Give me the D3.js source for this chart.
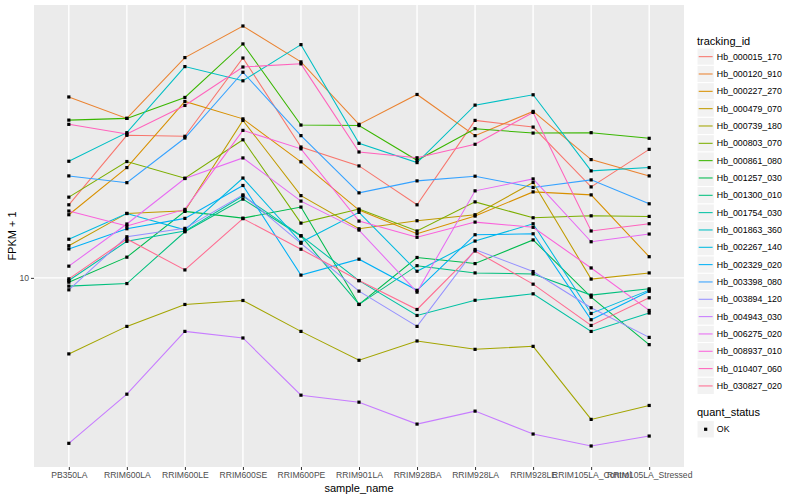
<!DOCTYPE html>
<html>
<head>
<meta charset="utf-8">
<script src="https://cdn.jsdelivr.net/npm/d3@7/dist/d3.min.js"></script>
<style>
  body { margin: 0; background: #fff; }
  svg { font-family: "Liberation Sans", Arial, sans-serif; }
</style>
</head>
<body>
<div id="wrapper"></div>
<script>
/*global d3 */

//****************************1. Data

const samples = ["PB350LA", "RRIM600LA", "RRIM600LE", "RRIM600SE", "RRIM600PE", "RRIM901LA",
    "RRIM928BA", "RRIM928LA", "RRIM928LE", "RRIM105LA_Control", "RRIM105LA_Stressed"]

const trackingIds = ["Hb_000015_170", "Hb_000120_910", "Hb_000227_270", "Hb_000479_070",
    "Hb_000739_180", "Hb_000803_070", "Hb_000861_080", "Hb_001257_030", "Hb_001300_010",
    "Hb_001754_030", "Hb_001863_360", "Hb_002267_140", "Hb_002329_020", "Hb_003398_080",
    "Hb_003894_120", "Hb_004943_030", "Hb_006275_020", "Hb_008937_010", "Hb_010407_060",
    "Hb_030827_020"]

// FPKM + 1, one array per gene, in sample order
const hb000015_170 = [15.25, 22.78, 22.65, 35.60, 21.29, 19.09, 15.25, 24.83, 23.89, 16.91, 21.01]
const hb000120_910 = [28.43, 25.12, 35.69, 42.83, 34.81, 24.27, 28.84, 22.74, 26.15, 19.80, 18.02]
const hb000227_270 = [14.40, 18.91, 27.70, 25.05, 19.55, 14.79, 12.90, 14.29, 16.43, 16.15, 11.30]
const hb000479_070 = [12.04, 14.51, 14.73, 24.83, 16.08, 13.28, 13.91, 14.40, 17.35, 9.93, 10.29]
const hb000739_180 = [6.446, 7.556, 8.576, 8.776, 7.341, 6.213, 6.946, 6.618, 6.734, 4.416, 4.786]
const hb000803_070 = [15.94, 19.58, 17.78, 22.20, 13.72, 14.88, 13.11, 15.51, 14.15, 14.31, 14.26]
const hb000861_080 = [24.87, 25.12, 28.35, 38.62, 24.17, 24.10, 19.72, 23.67, 23.08, 23.13, 22.39]
const hb001257_030 = [9.755, 11.27, 14.68, 14.12, 15.05, 8.576, 11.25, 10.86, 12.45, 8.949, 6.800]
const hb001300_010 = [9.534, 9.677, 13.05, 15.76, 12.74, 8.580, 10.73, 10.29, 10.23, 9.052, 9.387]
const hb001754_030 = [9.846, 12.35, 13.10, 16.05, 12.76, 9.840, 8.049, 8.786, 9.120, 7.340, 8.162]
const hb001863_360 = [19.61, 23.13, 33.88, 31.21, 38.46, 21.75, 19.46, 27.12, 28.79, 18.55, 18.91]
const hb002267_140 = [12.50, 14.50, 13.20, 17.80, 12.28, 14.60, 10.39, 12.37, 13.67, 8.142, 9.317]
const hb002329_020 = [11.82, 13.28, 14.10, 17.05, 10.16, 11.14, 9.306, 12.83, 12.90, 7.853, 9.253]
const hb003398_080 = [18.02, 17.33, 22.43, 32.79, 22.74, 16.34, 17.51, 17.99, 16.86, 17.61, 15.34]
const hb003894_120 = [9.333, 12.68, 13.31, 16.15, 12.21, 9.263, 7.556, 11.78, 10.37, 8.414, 7.091]
const hb004943_030 = [3.846, 5.108, 7.341, 7.067, 5.079, 4.878, 4.298, 4.632, 4.058, 3.787, 4.011]
const hb006275_020 = [10.70, 13.65, 17.75, 19.99, 15.58, 13.18, 9.210, 16.53, 17.71, 12.32, 12.88]
const hb008937_010 = [14.71, 13.49, 14.85, 23.44, 21.07, 13.88, 12.64, 13.80, 13.39, 10.59, 8.285]
const hb010407_060 = [24.27, 22.95, 27.07, 33.80, 34.42, 20.69, 20.01, 21.63, 26.00, 13.11, 13.67]
const hb030827_020 = [9.943, 12.52, 10.47, 14.08, 11.80, 9.846, 8.331, 11.68, 9.643, 7.598, 8.913]

const fpkmRows = [hb000015_170, hb000120_910, hb000227_270, hb000479_070, hb000739_180,
    hb000803_070, hb000861_080, hb001257_030, hb001300_010, hb001754_030, hb001863_360,
    hb002267_140, hb002329_020, hb003398_080, hb003894_120, hb004943_030, hb006275_020,
    hb008937_010, hb010407_060, hb030827_020]

const quantStatus = ["OK"]
const yTicks = [10]

// ggplot default hue palette for 20 levels
const palette = ["#F8766D", "#EA8331", "#D89000", "#C09B00", "#A3A500", "#7CAE00", "#39B600",
    "#00BB4E", "#00BF7D", "#00C1A3", "#00BFC4", "#00BAE0", "#00B0F6", "#35A2FF", "#9590FF",
    "#C77CFF", "#E76BF3", "#FA62DB", "#FF62BC", "#FF6C91"]

const genes = trackingIds.map((id, i) => ({
    id: id,
    values: fpkmRows[i].map((v, j) => ({ sample: samples[j], fpkm: v, status: "OK" }))
}))

//****************************2. Dimensions

let dimensions = {
    width: 800,
    height: 500,
    margin: { top: 5, right: 116, bottom: 33, left: 34 }
}
dimensions.boundedWidth = dimensions.width - dimensions.margin.left - dimensions.margin.right
dimensions.boundedHeight = dimensions.height - dimensions.margin.top - dimensions.margin.bottom

//****************************3. Canvas

const wrapper = d3.select("#wrapper")
    .append("svg")
    .attr("width", dimensions.width)
    .attr("height", dimensions.height)

const bounds = wrapper.append("g")
    .attr("transform", `translate(${dimensions.margin.left},${dimensions.margin.top})`)

//****************************4. Scales

const xScale = d3.scalePoint()
    .domain(samples)
    .range([0, dimensions.boundedWidth])
    .padding(0.6)

// log10 scale, expanded 5% each side like ggplot
const allValues = fpkmRows.flat()
const logExtent = d3.extent(allValues).map(Math.log10)
const pad = (logExtent[1] - logExtent[0]) * 0.05
const yScale = d3.scaleLog()
    .domain([Math.pow(10, logExtent[0] - pad), Math.pow(10, logExtent[1] + pad)])
    .range([dimensions.boundedHeight, 0])

const colorScale = d3.scaleOrdinal()
    .domain(trackingIds)
    .range(palette)

//****************************5. Panel + grid

bounds.append("rect")
    .attr("width", dimensions.boundedWidth)
    .attr("height", dimensions.boundedHeight)
    .attr("fill", "#EBEBEB")

bounds.append("g").selectAll("line")
    .data(samples)
    .join("line")
    .attr("x1", d => xScale(d))
    .attr("x2", d => xScale(d))
    .attr("y1", 0)
    .attr("y2", dimensions.boundedHeight)
    .attr("stroke", "white")
    .attr("stroke-width", 1.4)

bounds.append("g").selectAll("line")
    .data(yTicks)
    .join("line")
    .attr("x1", 0)
    .attr("x2", dimensions.boundedWidth)
    .attr("y1", d => yScale(d))
    .attr("y2", d => yScale(d))
    .attr("stroke", "white")
    .attr("stroke-width", 1.4)

//****************************6. Lines and points

const lineGenerator = d3.line()
    .x(d => xScale(d.sample))
    .y(d => yScale(d.fpkm))

bounds.append("g").selectAll("path")
    .data(genes)
    .join("path")
    .attr("d", d => lineGenerator(d.values))
    .attr("fill", "none")
    .attr("stroke", d => colorScale(d.id))
    .attr("stroke-width", 1.05)

const pointSize = 3.2
bounds.append("g").selectAll("rect")
    .data(genes.flatMap(d => d.values))
    .join("rect")
    .attr("x", d => xScale(d.sample) - pointSize / 2)
    .attr("y", d => yScale(d.fpkm) - pointSize / 2)
    .attr("width", pointSize)
    .attr("height", pointSize)
    .attr("fill", "black")

//****************************7. Axes

const xAxis = bounds.append("g")
    .attr("transform", `translate(0,${dimensions.boundedHeight})`)
    .call(d3.axisBottom(xScale).tickSize(3).tickPadding(2))
xAxis.select(".domain").remove()
xAxis.selectAll(".tick line").attr("stroke", "#333")
xAxis.selectAll(".tick text")
    .attr("font-size", "8.6px")
    .attr("font-family", "Liberation Sans, Arial, sans-serif")
    .attr("fill", "#4D4D4D")

const yAxis = bounds.append("g")
    .call(d3.axisLeft(yScale).tickValues(yTicks).tickFormat(d3.format("d")).tickSize(3).tickPadding(2))
yAxis.select(".domain").remove()
yAxis.selectAll(".tick line").attr("stroke", "#333")
yAxis.selectAll(".tick text")
    .attr("font-size", "8.6px")
    .attr("font-family", "Liberation Sans, Arial, sans-serif")
    .attr("fill", "#4D4D4D")

wrapper.append("text")
    .attr("x", dimensions.margin.left + dimensions.boundedWidth / 2)
    .attr("y", 492)
    .attr("text-anchor", "middle")
    .attr("font-size", "11px")
    .text("sample_name")

wrapper.append("text")
    .attr("transform", `translate(16,${dimensions.margin.top + dimensions.boundedHeight / 2}) rotate(-90)`)
    .attr("text-anchor", "middle")
    .attr("font-size", "11px")
    .text("FPKM + 1")

//****************************8. Legends

const legendX = 697
const keySize = 17.33

wrapper.append("text")
    .attr("x", legendX)
    .attr("y", 44.5)
    .attr("font-size", "11px")
    .text("tracking_id")

const legendItems = wrapper.append("g").selectAll("g")
    .data(trackingIds)
    .join("g")
    .attr("transform", (d, i) => `translate(${legendX},${48 + i * keySize})`)

legendItems.append("rect")
    .attr("width", keySize)
    .attr("height", keySize)
    .attr("fill", "#F2F2F2")
    .attr("stroke", "white")

legendItems.append("line")
    .attr("x1", 1.7)
    .attr("x2", keySize - 1.7)
    .attr("y1", keySize / 2)
    .attr("y2", keySize / 2)
    .attr("stroke", d => colorScale(d))
    .attr("stroke-width", 1.05)

legendItems.append("text")
    .attr("x", keySize + 2.5)
    .attr("y", keySize / 2)
    .attr("dy", "0.35em")
    .attr("font-size", "8.8px")
    .text(d => d)

wrapper.append("text")
    .attr("x", legendX)
    .attr("y", 416)
    .attr("font-size", "11px")
    .text("quant_status")

const statusItems = wrapper.append("g").selectAll("g")
    .data(quantStatus)
    .join("g")
    .attr("transform", (d, i) => `translate(${legendX},${420.6 + i * keySize})`)

statusItems.append("rect")
    .attr("width", keySize)
    .attr("height", keySize)
    .attr("fill", "#F2F2F2")
    .attr("stroke", "white")

statusItems.append("rect")
    .attr("x", keySize / 2 - pointSize / 2)
    .attr("y", keySize / 2 - pointSize / 2)
    .attr("width", pointSize)
    .attr("height", pointSize)
    .attr("fill", "black")

statusItems.append("text")
    .attr("x", keySize + 2.5)
    .attr("y", keySize / 2)
    .attr("dy", "0.35em")
    .attr("font-size", "8.8px")
    .text(d => d)
</script>
</body>
</html>
